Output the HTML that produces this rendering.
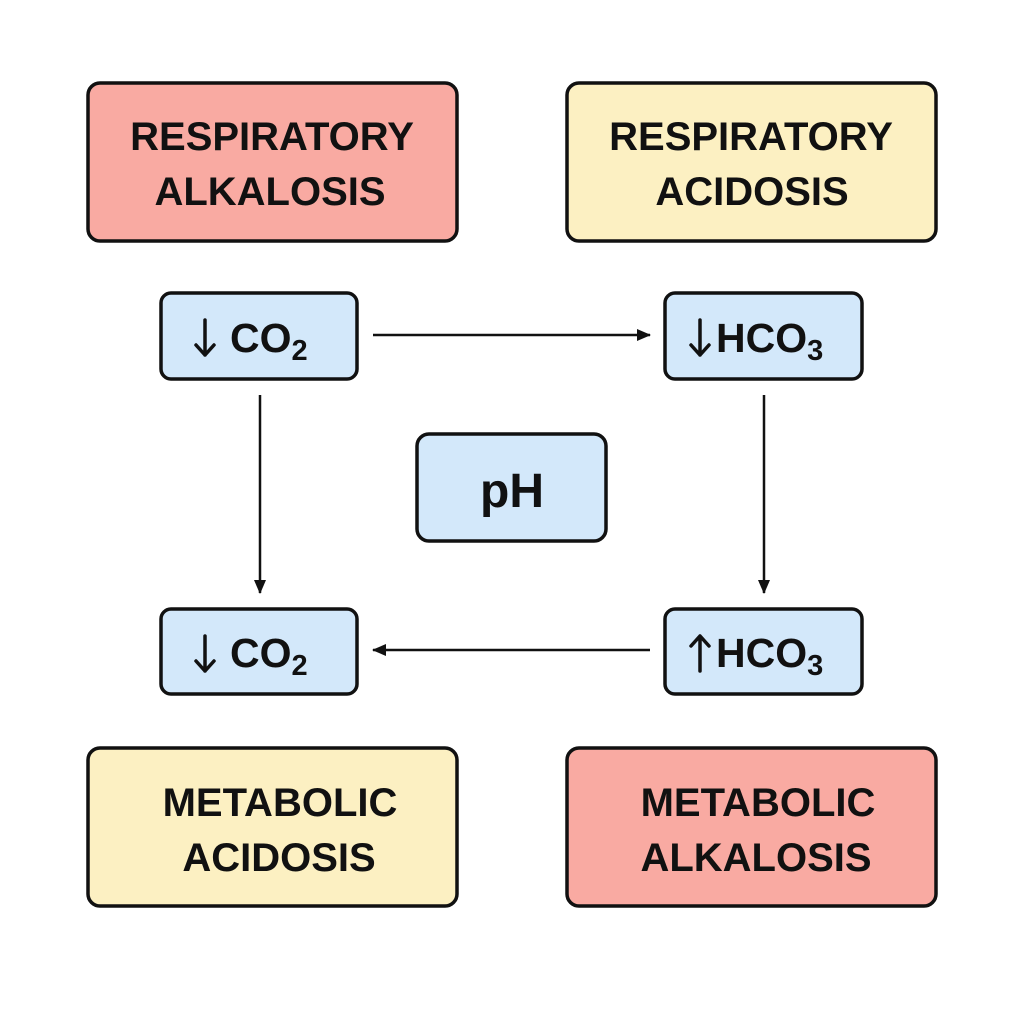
<!DOCTYPE html>
<html><head><style>
html,body{margin:0;padding:0;background:#fff;}
svg text{font-family:"Liberation Sans",sans-serif;fill:#111;font-weight:bold;}
</style></head><body>
<svg width="1024" height="1024" viewBox="0 0 1024 1024" xmlns="http://www.w3.org/2000/svg">
<defs>
<marker id="ah" markerWidth="14" markerHeight="12" refX="13" refY="6" orient="auto" markerUnits="userSpaceOnUse">
<path d="M0,0 L14,6 L0,12 z" fill="#111" stroke="none"/>
</marker>
</defs>
<g stroke="#111" stroke-width="3.5">
<rect x="88" y="83" width="369" height="158" rx="12" fill="#f9aaa2"/>
<rect x="567" y="83" width="369" height="158" rx="12" fill="#fcf0c2"/>
<rect x="88" y="748" width="369" height="158" rx="12" fill="#fcf0c2"/>
<rect x="567" y="748" width="369" height="158" rx="12" fill="#f9aaa2"/>
<rect x="161" y="293" width="196" height="86" rx="10" fill="#d3e8fa"/>
<rect x="665" y="293" width="197" height="86" rx="10" fill="#d3e8fa"/>
<rect x="417" y="434" width="189" height="107" rx="12" fill="#d3e8fa"/>
<rect x="161" y="609" width="196" height="85" rx="10" fill="#d3e8fa"/>
<rect x="665" y="609" width="197" height="85" rx="10" fill="#d3e8fa"/>
</g>
<g stroke="#111" stroke-width="2.5" fill="none">
<line x1="373" y1="335" x2="650" y2="335" marker-end="url(#ah)"/>
<line x1="260" y1="395" x2="260" y2="593" marker-end="url(#ah)"/>
<line x1="764" y1="395" x2="764" y2="593" marker-end="url(#ah)"/>
<line x1="650" y1="650" x2="373" y2="650" marker-end="url(#ah)"/>
</g>
<g stroke="#111" stroke-width="3.5" fill="none" stroke-linecap="round" stroke-linejoin="round">
<path d="M205,320 V355 M196,345 L205,355 L214,345"/>
<path d="M700,320 V355 M691,345 L700,355 L709,345"/>
<path d="M205,636 V671 M196,661 L205,671 L214,661"/>
<path d="M700,671 V636 M691,646 L700,636 L709,646"/>
</g>
<g font-size="40" text-anchor="middle">
<text x="272" y="150">RESPIRATORY</text>
<text x="270" y="205">ALKALOSIS</text>
<text x="751" y="150">RESPIRATORY</text>
<text x="752" y="205">ACIDOSIS</text>
<text x="280" y="816">METABOLIC</text>
<text x="279" y="871">ACIDOSIS</text>
<text x="758" y="816">METABOLIC</text>
<text x="756" y="871">ALKALOSIS</text>
</g>
<g font-size="41">
<text x="230" y="352">CO<tspan font-size="29" dy="8">2</tspan></text>
<text x="716" y="352">HCO<tspan font-size="29" dy="8">3</tspan></text>
<text x="230" y="667">CO<tspan font-size="29" dy="8">2</tspan></text>
<text x="716" y="667">HCO<tspan font-size="29" dy="8">3</tspan></text>
<text x="512" y="507" font-size="48" text-anchor="middle">pH</text>
</g>
</svg>
</body></html>
